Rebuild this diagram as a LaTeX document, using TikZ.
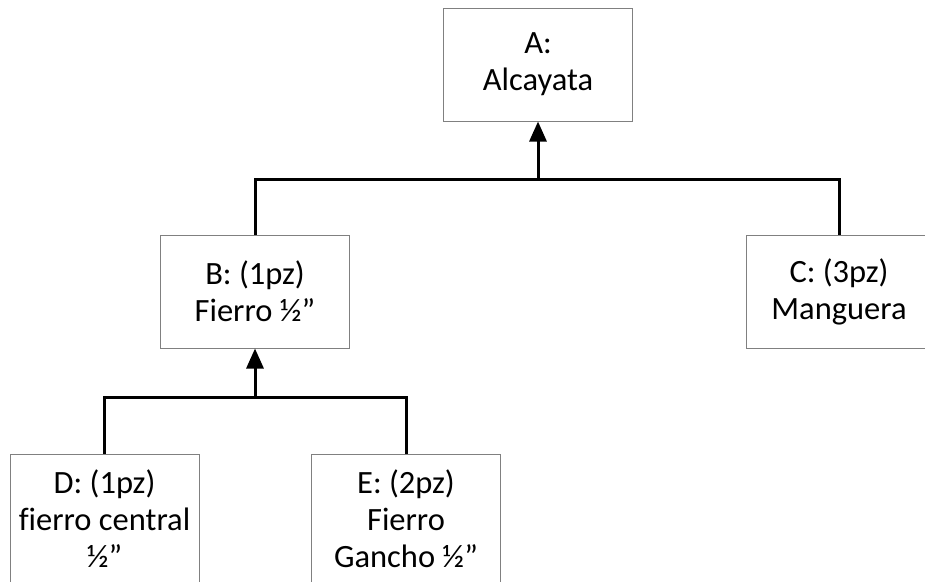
\documentclass[tikz,border=0pt]{standalone}
\usepackage{fontspec}
\setmainfont{Carlito}[Ligatures=NoCommon]
\usepackage{tikz}
\usetikzlibrary{arrows.meta}
\definecolor{boxgray}{RGB}{128,128,128}

\begin{document}
\begin{tikzpicture}[
  x=1pt, y=-1pt,
  font=\fontsize{32.5}{37}\selectfont,
  part/.style={rectangle, draw=boxgray, line width=1pt, align=center, inner sep=0pt, minimum width=189pt, minimum height=113pt},
  leaf/.style={part, minimum height=130pt},
  wire/.style={line width=3pt},
  link/.style={wire, -{Triangle[length=20pt,width=17pt]}}
]
\useasboundingbox (0,0) rectangle (925,581);
% parts
\node[part] (A) at (538,64.5)  {A:\\Alcayata};
\node[part] (B) at (255,291.5) {B: (1pz)\\Fierro ½”};
\node[part, minimum width=186pt] (C) at (839,291.5) {C: (3pz)\\Manguera};
\node[leaf] (D) at (104.5,519) {D: (1pz)\\fierro central\\½”};
\node[leaf] (E) at (406,519)   {E: (2pz)\\Fierro\\Gancho ½”};
% joints
\coordinate (jA) at (538,179);
\coordinate (jB) at (255,397);
% links
\draw[wire] (B.north) |- (jA) -| (C.north);
\draw[link] (jA) -- (A.south);
\draw[wire] (D.north) |- (jB) -| (E.north);
\draw[link] (jB) -- (B.south);
\end{tikzpicture}
\end{document}
